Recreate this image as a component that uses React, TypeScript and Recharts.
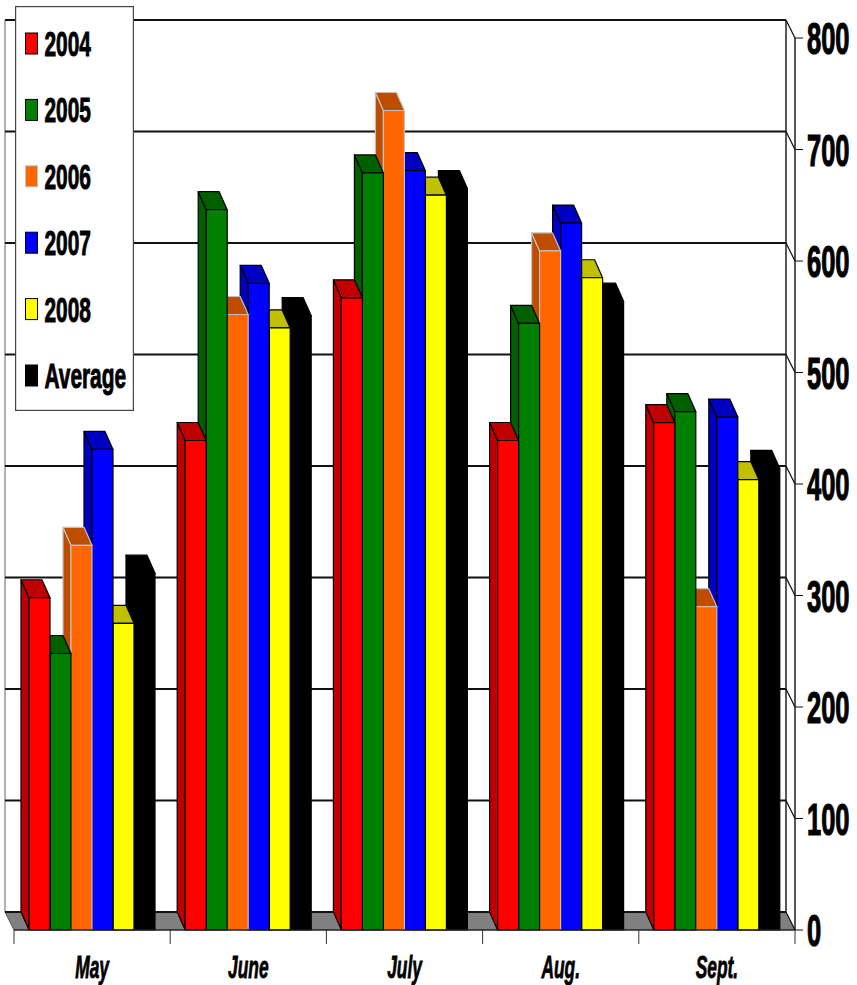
import * as React from "react";
import { BarChart, Bar, XAxis, YAxis, CartesianGrid, Legend } from "recharts";

const months = ["May", "June", "July", "Aug.", "Sept."];
const values2004 = [298, 439, 567, 439, 455];
const values2005 = [248, 646, 679, 544, 465];
const values2006 = [345, 552, 735, 609, 290];
const values2007 = [431, 580, 681, 634, 460];
const values2008 = [275, 540, 659, 585, 404];
const valuesAverage = [320, 551, 665, 564, 414];
const yTicks = [0, 100, 200, 300, 400, 500, 600, 700, 800];

const seriesNames = ["2004", "2005", "2006", "2007", "2008", "Average"];
const frontColors = ["#ff0000", "#008000", "#ff6600", "#0000ff", "#ffff00", "#000000"];
const darkColors = ["#c00000", "#006000", "#bf4d00", "#0000c0", "#c0c000", "#000000"];
const edgeColors = ["#000000", "#000000", "#c0c0c0", "#000000", "#000000", "#000000"];

const tableData = months.map((month, i) => ({
  month,
  "2004": values2004[i],
  "2005": values2005[i],
  "2006": values2006[i],
  "2007": values2007[i],
  "2008": values2008[i],
  Average: valuesAverage[i],
}));

const WIDTH = 857;
const HEIGHT = 985;
const DEPTH_X = 9;
const DEPTH_Y = 18;
const BAR_DEPTH_X = 8;
const HALF_BAND = 78.1;

// the first series has to sit on top, so bars are rendered last-to-first
// and each one is moved back to its own slot inside the group
function makeBarShape(slot: number) {
  return (props: any) => {
    const { y, width, height } = props;
    const x = props.x + (slot - (5 - slot)) * width;
    const bottom = y + height;
    const dx = BAR_DEPTH_X;
    const edge = edgeColors[slot];
    return (
      <g stroke={edge} strokeWidth={1.2} strokeLinejoin="round">
        <polygon
          points={`${x},${y} ${x - dx},${y - DEPTH_Y} ${x - dx},${bottom - DEPTH_Y} ${x},${bottom}`}
          fill={darkColors[slot]}
        />
        <polygon
          points={`${x},${y} ${x + width},${y} ${x + width - dx},${y - DEPTH_Y} ${x - dx},${y - DEPTH_Y}`}
          fill={darkColors[slot]}
        />
        <rect x={x} y={y} width={width} height={height} fill={frontColors[slot]} />
      </g>
    );
  };
}

function gridLine(props: any) {
  const { x1, x2, y1, index } = props;
  const isFloor = y1 > 900;
  const isTop = y1 < 50;
  return (
    <g key={`grid-${index}`}>
      {isFloor && (
        <polygon
          points={`${x1 - DEPTH_X},${y1 - DEPTH_Y} ${x2 - DEPTH_X},${y1 - DEPTH_Y} ${x2},${y1} ${x1},${y1}`}
          fill="#808080"
        />
      )}
      {isFloor && (
        <line x1={x1 - DEPTH_X} y1={y1 - DEPTH_Y} x2={x1} y2={y1} stroke="#555" strokeWidth={1} />
      )}
      {isFloor && (
        <line x1={x1 - DEPTH_X} y1={y1 - DEPTH_Y} x2={x1 - DEPTH_X} y2={20} stroke="#999" strokeWidth={1.5} />
      )}
      {isFloor && (
        <line x1={x2 - DEPTH_X} y1={y1 - DEPTH_Y} x2={x2 - DEPTH_X} y2={20} stroke="#111" strokeWidth={1.4} />
      )}
      <line
        x1={x1 - DEPTH_X}
        y1={y1 - DEPTH_Y}
        x2={x2 - DEPTH_X}
        y2={y1 - DEPTH_Y}
        stroke="#111"
        strokeWidth={isTop ? 2.2 : 1.8}
      />
      <line x1={x2 - DEPTH_X} y1={y1 - DEPTH_Y} x2={x2} y2={y1} stroke="#111" strokeWidth={1.2} />
    </g>
  );
}

function ValueTick(props: any) {
  const { y, payload } = props;
  return (
    <text
      transform={`translate(807,${y + 16}) scale(0.58,1)`}
      fontFamily="Liberation Sans"
      fontWeight="bold"
      fontSize={44}
      fill="#000"
      stroke="#000"
      strokeWidth={1.2}
    >
      {payload.value}
    </text>
  );
}

function MonthTick(props: any) {
  const { x, payload, index } = props;
  return (
    <g>
      <line x1={x - HALF_BAND} y1={930} x2={x - HALF_BAND} y2={944} stroke="#333" />
      {index === months.length - 1 && (
        <line x1={x + HALF_BAND} y1={930} x2={x + HALF_BAND} y2={944} stroke="#333" />
      )}
      <text
        transform={`translate(${x},978) scale(0.56,1)`}
        textAnchor="middle"
        fontFamily="Liberation Sans"
        fontWeight="bold"
        fontStyle="italic"
        fontSize={31}
        fill="#000"
        stroke="#000"
        strokeWidth={0.8}
      >
        {payload.value}
      </text>
    </g>
  );
}

function YearLegend() {
  return (
    <svg width={119} height={405} style={{ display: "block" }}>
      <rect x={0.5} y={0.5} width={118} height={404} fill="#fff" stroke="#444" strokeWidth={1.4} />
      {seriesNames.map((name, i) => {
        const cy = 37.5 + i * 66.4;
        return (
          <g key={name}>
            <rect
              x={10.5}
              y={cy - 10.5}
              width={12}
              height={21}
              fill={frontColors[i]}
              stroke={edgeColors[i]}
            />
            <text
              transform={`translate(29.5,${cy + 12.5}) scale(0.58,1)`}
              fontFamily="Liberation Sans"
              fontWeight="bold"
              fontSize={36}
              fill="#000"
              stroke="#000"
              strokeWidth={1}
            >
              {name}
            </text>
          </g>
        );
      })}
    </svg>
  );
}

export default function App() {
  const slots = seriesNames.map((_, i) => i).reverse();
  return (
    <div style={{ position: "absolute", left: 0, top: 0, width: WIDTH, height: HEIGHT, overflow: "hidden", background: "#fff" }}>
      <BarChart
        width={WIDTH}
        height={HEIGHT}
        data={tableData}
        margin={{ top: 38, right: 0, bottom: 0, left: 14 }}
        barSize={21}
        barGap={0}
      >
        <CartesianGrid vertical={false} horizontal={gridLine} />
        <XAxis
          dataKey="month"
          height={55}
          interval={0}
          tickLine={false}
          tick={MonthTick}
          axisLine={{ stroke: "#222", strokeWidth: 1.5 }}
        />
        <YAxis
          orientation="right"
          width={62}
          domain={[0, 800]}
          ticks={yTicks}
          interval={0}
          tickSize={8}
          tickLine={{ stroke: "#111" }}
          tick={ValueTick}
          axisLine={{ stroke: "#111", strokeWidth: 1.4 }}
        />
        <Legend
          layout="horizontal"
          verticalAlign="middle"
          align="center"
          content={YearLegend}
          wrapperStyle={{ position: "absolute", left: 15, top: 6, width: 119, height: 405, margin: 0 }}
        />
        {slots.map((slot) => (
          <Bar
            key={seriesNames[slot]}
            dataKey={seriesNames[slot]}
            isAnimationActive={false}
            shape={makeBarShape(slot)}
          />
        ))}
      </BarChart>
    </div>
  );
}
